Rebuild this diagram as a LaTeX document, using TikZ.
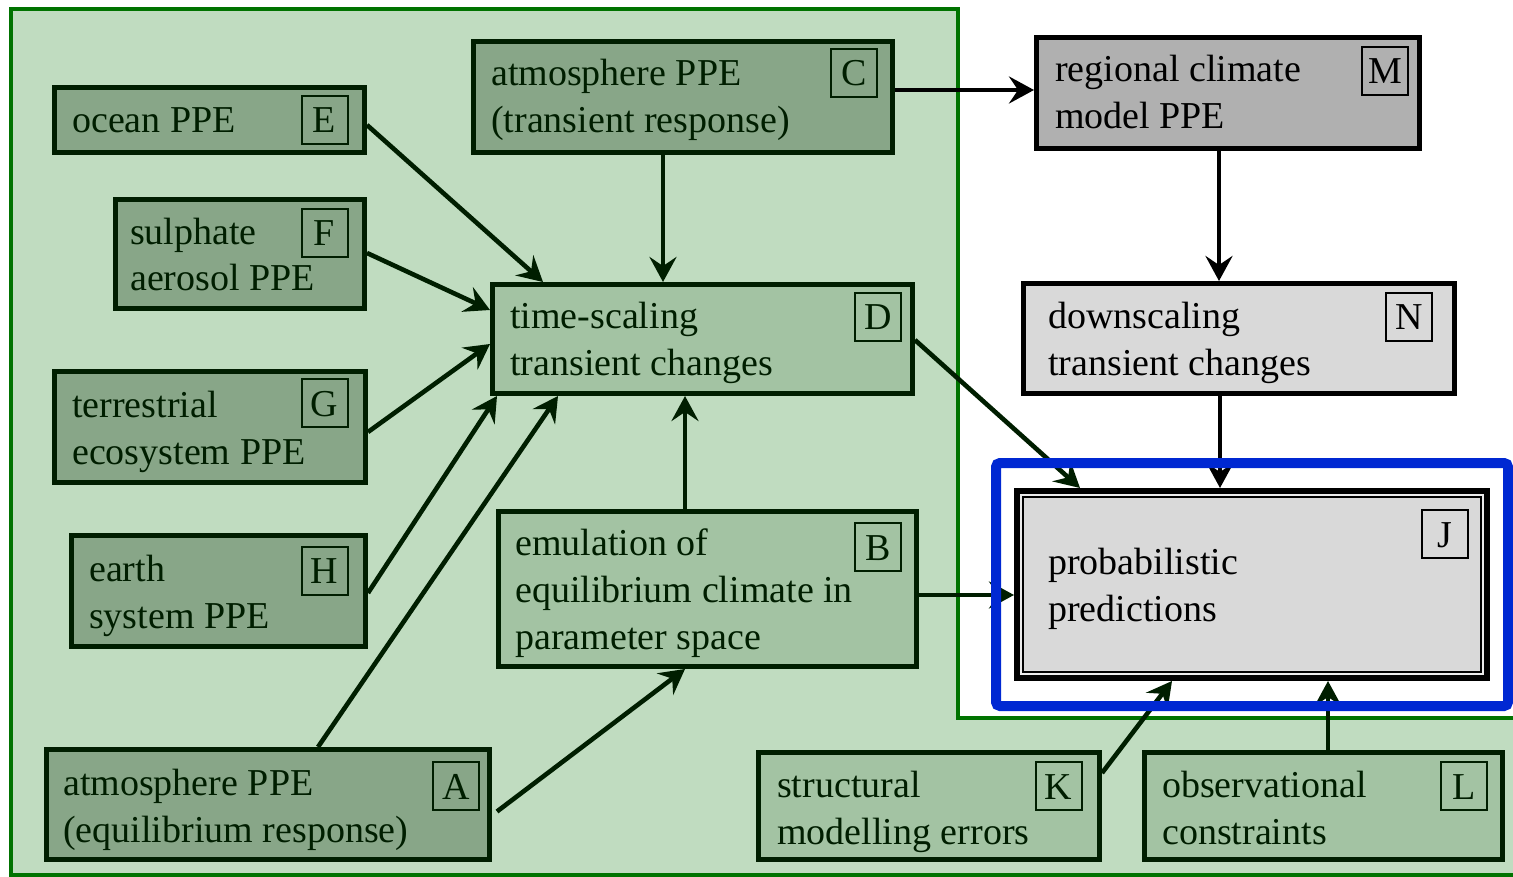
\documentclass[tikz,border=0pt]{standalone}
\usepackage{fontspec}
\setmainfont{Liberation Serif}
\usetikzlibrary{arrows.meta,calc}
\definecolor{bggreen}{RGB}{192,220,192}
\definecolor{outgreen}{RGB}{0,115,0}
\definecolor{dkbox}{RGB}{136,166,136}
\definecolor{ltbox}{RGB}{163,195,163}
\definecolor{bord}{RGB}{0,30,0}
\definecolor{mgray}{RGB}{176,176,176}
\definecolor{lgray}{RGB}{217,217,217}
\definecolor{gapc}{RGB}{235,235,235}
\definecolor{hblue}{RGB}{0,40,210}
\begin{document}
\begin{tikzpicture}[x=1pt,y=-1pt,font=\fontsize{38}{47}\selectfont,
  box/.style={draw=bord,line width=5pt,inner sep=0pt},
  dkb/.style={box,fill=dkbox},
  ltb/.style={box,fill=ltbox},
  gyb/.style={draw=black,line width=5pt,inner sep=0pt},
  txt/.style={anchor=base west,inner sep=0pt,align=left,text=bord},
  txtk/.style={txt,text=black},
  lbl/.style={draw=bord,line width=2pt,minimum width=46pt,minimum height=48pt,
    inner sep=0pt,text height=26pt,text depth=0pt,text=bord},
  lblk/.style={lbl,draw=black,text=black},
  arr/.style={draw=bord,line width=4.6pt,-{Stealth[length=25pt,width=27pt,inset=9pt]}},
  arrk/.style={arr,draw=black}]
\useasboundingbox (0,0) rectangle (1513,877);
\clip (0,0) rectangle (1513,877);
\fill[white] (0,0) rectangle (1513,877);
% green region
\fill[bggreen] (11,9) -- (958,9) -- (958,718) -- (1525,718) -- (1525,875) -- (11,875) -- cycle;
\draw[outgreen,line width=4.5pt] (1525,875) -- (11,875) -- (11,9) -- (958,9) -- (958,718) -- (1525,718);
% boxes
\node[dkb,minimum width=310pt,minimum height=65pt] (E) at (209.5,120) {};
\node[dkb,minimum width=249pt,minimum height=109pt] (F) at (240,254) {};
\node[dkb,minimum width=311pt,minimum height=111pt] (G) at (210,427) {};
\node[dkb,minimum width=294pt,minimum height=111pt] (H) at (218.5,591) {};
\node[dkb,minimum width=443pt,minimum height=110pt] (A) at (268,804.5) {};
\node[dkb,minimum width=419pt,minimum height=111pt] (C) at (683,97) {};
\node[ltb,minimum width=420pt,minimum height=109pt] (D) at (702.5,339) {};
\node[ltb,minimum width=418pt,minimum height=155pt] (B) at (707.5,589) {};
\node[gyb,fill=mgray,minimum width=383pt,minimum height=111pt] (M) at (1228,93) {};
\node[gyb,fill=lgray,minimum width=431pt,minimum height=110pt] (N) at (1239,338.5) {};
\node[gyb,fill=lgray,line width=6pt,minimum width=470pt,minimum height=187pt] (J) at (1252,584.5) {};
\node[ltb,minimum width=341pt,minimum height=107pt] (K) at (929,806) {};
\node[ltb,minimum width=358pt,minimum height=107pt] (L) at (1323.5,806) {};
\draw[gapc,line width=2pt] ($(J.south west)+(7,-7)$) rectangle ($(J.north east)+(-7,7)$);
\draw[black,line width=1.5pt] ($(J.south west)+(9,-9)$) rectangle ($(J.north east)+(-9,9)$);
% texts (anchored at last-line baselines)
\node[txt] (Et) at (72,133) {ocean PPE};
\node[txt] (Ft) at (130,291) {sulphate\\aerosol PPE};
\node[txt] (Gt) at (72,464) {terrestrial\\ecosystem PPE};
\node[txt] (Ht) at (89,628) {earth\\system PPE};
\node[txt] (At) at (63,842) {atmosphere PPE\\(equilibrium response)};
\node[txt] (Ct) at (491,133) {atmosphere PPE\\(transient response)};
\node[txt] (Dt) at (510,375) {time-scaling\\transient changes};
\node[txt] (Bt) at (515,649) {emulation of\\equilibrium climate in\\parameter space};
\node[txtk] (Mt) at (1055,129) {regional climate\\model PPE};
\node[txtk] (Nt) at (1048,375) {downscaling\\transient changes};
\node[txtk] (Jt) at (1048,621) {probabilistic\\predictions};
\node[txt] (Kt) at (777,844) {structural\\modelling errors};
\node[txt] (Lt) at (1162,844) {observational\\constraints};
% letter labels
\node[lbl] (El) at (324.5,120) {E};
\node[lbl] (Fl) at (324.5,233) {F};
\node[lbl] (Gl) at (324.5,403) {G};
\node[lbl] (Hl) at (324.5,570.5) {H};
\node[lbl] (Al) at (456,786) {A};
\node[lbl] (Cl) at (854,73) {C};
\node[lbl] (Dl) at (878,317) {D};
\node[lbl] (Bl) at (878,547) {B};
\node[lblk] (Ml) at (1385,71) {M};
\node[lblk] (Nl) at (1409,317) {N};
\node[lblk] (Jl) at (1445,534) {J};
\node[lbl] (Kl) at (1058.5,786) {K};
\node[lbl] (Ll) at (1464,786) {L};
% arrows
\draw[arr] ($(E.east)+(0,5)$) -- ($(D.north west)+(53,0)$);
\draw[arr] ($(F.east)+(0,-1)$) -- ($(D.north west)+(0,28)$);
\draw[arr] ($(G.east)+(0,5)$) -- ($(D.north west)+(0,62)$);
\draw[arr] ($(H.east)+(0,2)$) -- ($(D.south west)+(7,0)$);
\draw[arr] ($(A.north west)+(274,0)$) -- ($(D.south west)+(68,0)$);
\draw[arr] ($(A.east)+(5,7)$) -- ($(B.south west)+(189,0)$);
\draw[arr] ($(C.south west)+(192,0)$) -- ($(D.north west)+(173,0)$);
\draw[arr] ($(B.north west)+(189,0)$) -- ($(D.south west)+(195,0)$);
\draw[arrk] ($(C.east)+(0,-7)$) -- ($(M.west)+(0,-3)$);
\draw[arrk] ($(M.south)+(-9,0)$) -- ($(N.north west)+(198,0)$);
\draw[arr] ($(D.east)+(0,1)$) -- ($(J.north west)+(66,0)$);
\draw[arrk] ($(N.south west)+(199,0)$) -- ($(J.north west)+(206,0)$);
\draw[arr] ($(B.east)+(0,6)$) -- ($(J.west)+(0,10.5)$);
\draw[arr] ($(K.north east)+(0,23)$) -- ($(J.south west)+(158,0)$);
\draw[arr] ($(L.north west)+(186,0)$) -- ($(J.south west)+(314,0)$);
% highlight
\draw[hblue,line width=10pt,rounded corners=4pt] (996,463) rectangle (1508,706);
\end{tikzpicture}
\end{document}
